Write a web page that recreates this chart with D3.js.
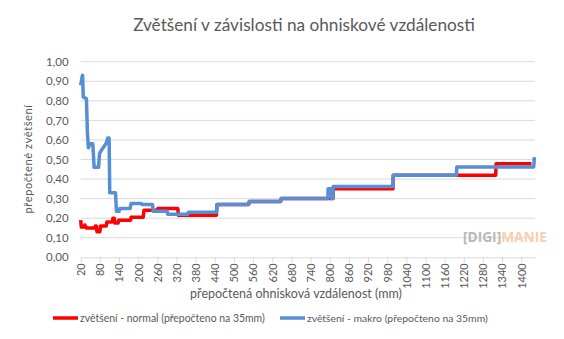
<!DOCTYPE html>
<html><head><meta charset="utf-8">
<script src="https://cdn.jsdelivr.net/npm/d3@7"></script>
<style>body{margin:0;background:#fff;} svg{display:block;font-family:Lato,sans-serif;}</style>
</head><body>
<svg id="c" width="564" height="339"></svg>
<script>
const titleText = "Zvětšení v závislosti na ohniskové vzdálenosti";
const xTitle = "přepočtená ohnisková vzdálenost (mm)";
const yTitle = "přepočtené zvětšení";
const seriesNames = ["zvětšení - normal (přepočteno na 35mm)", "zvětšení - makro (přepočteno na 35mm)"];
const xTicks = d3.range(20, 1401, 60);
const yTicks = [0,0.1,0.2,0.3,0.4,0.5,0.6,0.7,0.8,0.9,1.0];

const normalX = [20,22,31,33,38,64,66,69,71,80,82,100,102,119,121,125,127,137,139,176,178,216,218,260,262,324,326,445,447,546,548,646,648,810,811,998,999,1320,1321,1432];
const normalY = [0.19,0.155,0.155,0.165,0.15,0.15,0.16,0.16,0.13,0.13,0.16,0.16,0.18,0.18,0.20,0.20,0.175,0.175,0.19,0.19,0.205,0.205,0.24,0.24,0.25,0.25,0.215,0.215,0.27,0.27,0.285,0.285,0.30,0.30,0.35,0.35,0.42,0.42,0.478,0.478];

const makroX = [20,24,26,28,38,41,44,49,58,62,76,79,86,99,105,109,111,129,132,140,143,175,178,210,212,245,247,291,293,355,357,445,447,546,548,646,648,794,795,805,806,810,811,998,999,1197,1198,1439,1441];
const makroY = [0.88,0.92,0.93,0.82,0.81,0.64,0.56,0.58,0.58,0.46,0.46,0.53,0.55,0.58,0.61,0.61,0.33,0.33,0.235,0.235,0.25,0.25,0.275,0.275,0.27,0.27,0.235,0.235,0.22,0.22,0.23,0.23,0.27,0.27,0.285,0.285,0.30,0.30,0.35,0.35,0.30,0.30,0.362,0.362,0.42,0.42,0.462,0.462,0.512];

const svg = d3.select("#c");
const L = 80.7, R = 535, T = 61.7, B = 257.3;
const x = d3.scaleLinear().domain([20, 1443]).range([L, R]);
const y = d3.scaleLinear().domain([0, 1]).range([B, T]);
const grey = "#595959";

function fit(sel, w){ const n = sel.node(); const cur = n.getComputedTextLength(); const fs = parseFloat(sel.attr("font-size")); sel.attr("font-size", fs * w / cur); }

// gridlines
svg.append("g").selectAll("line").data(yTicks.slice(1)).join("line")
  .attr("x1", L).attr("x2", R).attr("y1", d=>y(d)).attr("y2", d=>y(d))
  .attr("stroke", "#D9D9D9").attr("stroke-width", 1);

// y axis labels
const yAx = svg.append("g").attr("transform", `translate(${L},0)`)
  .call(d3.axisLeft(y).tickValues(yTicks).tickFormat(d=>d3.format(".2f")(d).replace(".", ",")).tickSize(0).tickPadding(12));
yAx.select(".domain").remove();
yAx.selectAll("text").attr("fill", grey).attr("font-size", 11.5).attr("font-family", "Lato");

// x axis
const xAx = svg.append("g").attr("transform", `translate(0,${B})`)
  .call(d3.axisBottom(x).tickValues(xTicks).tickFormat(d3.format("d")).tickSize(5).tickSizeOuter(0));
xAx.select(".domain").attr("stroke", "#D9D9D9");
xAx.selectAll(".tick line").attr("stroke", "#D9D9D9");
xAx.selectAll("text").attr("fill", grey).attr("font-size", 11).attr("font-family", "Lato")
  .attr("transform", "rotate(-90)").attr("text-anchor", "end").attr("dy", "0.35em").attr("x", -6).attr("y", 0);

// watermark
const wm = svg.append("text").attr("x", 463).attr("y", 242).attr("font-size", 13).attr("font-weight", "bold").attr("font-family", "Open Sans");
wm.append("tspan").attr("fill", "#b8b8b8").text("[DIGI]");
wm.append("tspan").attr("fill", "#f7cfb0").text("MANIE");
fit(wm, 84);

// lines
const line = d3.line().x(d=>x(d[0])).y(d=>y(d[1]));
svg.append("path").datum(d3.zip(normalX, normalY)).attr("d", line)
  .attr("fill", "none").attr("stroke", "#FF0000").attr("stroke-width", 3.5).attr("stroke-linejoin", "round");
svg.append("path").datum(d3.zip(makroX, makroY)).attr("d", line)
  .attr("fill", "none").attr("stroke", "#588ED6").attr("stroke-width", 3.5).attr("stroke-linejoin", "round");

// titles
const tt = svg.append("text").attr("x", 304).attr("y", 31).attr("text-anchor", "middle")
  .attr("fill", grey).attr("font-size", 17).attr("font-family", "Lato").text(titleText);
fit(tt, 342);
const xt = svg.append("text").attr("x", 296).attr("y", 298).attr("text-anchor", "middle")
  .attr("fill", grey).attr("font-size", 12).attr("font-family", "Lato").text(xTitle);
fit(xt, 212);
const yt = svg.append("text").attr("transform", "translate(32,159) rotate(-90)").attr("text-anchor", "middle")
  .attr("fill", grey).attr("font-size", 12).attr("font-family", "Lato").attr("letter-spacing", 0.6).text(yTitle);
fit(yt, 108);

// legend
const leg = [{x1:53, x2:78, tx:80, w:185, c:"#FF0000"}, {x1:280, x2:305, tx:307, w:181, c:"#588ED6"}];
leg.forEach((l,i)=>{
  svg.append("line").attr("x1", l.x1).attr("x2", l.x2).attr("y1", 318).attr("y2", 318).attr("stroke", l.c).attr("stroke-width", 3.5);
  const t = svg.append("text").attr("x", l.tx).attr("y", 322).attr("fill", grey).attr("font-size", 12).attr("font-family", "Lato").text(seriesNames[i]);
  fit(t, l.w);
});
</script>
</body></html>
